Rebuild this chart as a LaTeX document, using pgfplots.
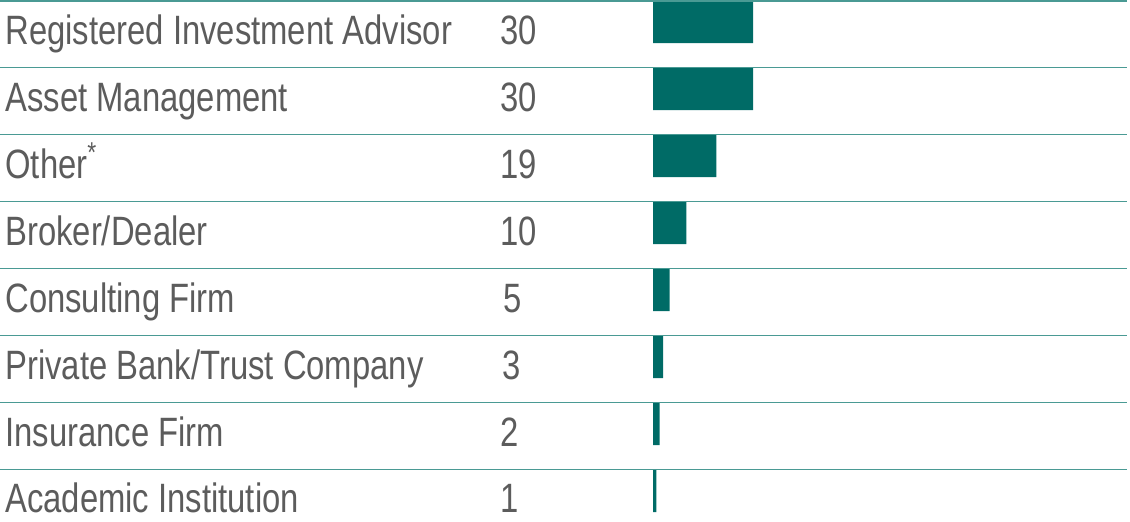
\documentclass[border=0pt]{standalone}
\usepackage{pgfplots}
\pgfplotsset{compat=1.18}
\usepackage{pgfplotstable}
\usepackage{fontspec}
\setmainfont{Liberation Sans}[FakeStretch=0.8]
\definecolor{barteal}{HTML}{006B66}
\definecolor{lineteal}{HTML}{4A9A94}
\definecolor{txtgray}{HTML}{5C5C5C}
% y = centre of the bar in pixel rows (top row first), v = value
\pgfplotstableread{
y v
22 30
89 30
156 19
223 10
290 5
357 3
424 2
491 1
}\datatable
\begin{document}
\begin{tikzpicture}
\begin{axis}[
  scale only axis,
  width=565pt, height=260.5pt,
  xmin=-195.9, xmax=143.1,
  ymin=0, ymax=521, y dir=reverse,
  axis lines=none, ticks=none,
  clip=false,
  xbar, bar width=42, bar shift=0pt,
]
\addplot[fill=barteal, draw=none] table[x=v, y=y] {\datatable};
\pgfplotsinvokeforeach{0.8,67.5,134.5,201.5,268.5,335.5,402.5,469.5}{
  \draw[lineteal, line width=0.8pt] (axis cs:-195.9,#1) -- (axis cs:142.2,#1);
}
\def\lx{-194.4}
\def\nx{-45.9}
\tikzset{lab/.style={anchor=base west, inner sep=0pt, text=txtgray, font=\fontsize{20.5}{24}\selectfont}}
\node[lab] at (axis cs:\lx,44) {Registered Investment Advisor};
\node[lab] at (axis cs:\lx,111) {Asset Management};
\node[lab] at (axis cs:\lx,178) {Other\textsuperscript{*}};
\node[lab] at (axis cs:\lx,245) {Broker/Dealer};
\node[lab] at (axis cs:\lx,312) {Consulting Firm};
\node[lab] at (axis cs:\lx,379) {Private Bank/Trust Company};
\node[lab] at (axis cs:\lx,446) {Insurance Firm};
\node[lab] at (axis cs:\lx,512) {Academic Institution};
\node[lab] at (axis cs:\nx,44) {30};
\node[lab] at (axis cs:\nx,111) {30};
\node[lab] at (axis cs:\nx,178) {19};
\node[lab] at (axis cs:\nx,245) {10};
\node[lab] at (axis cs:\nx+0.9,312) {5};
\node[lab] at (axis cs:\nx+0.6,379) {3};
\node[lab] at (axis cs:\nx,446) {2};
\node[lab] at (axis cs:\nx,512) {1};
\end{axis}
\pgfresetboundingbox
\useasboundingbox (current axis.south west) rectangle (current axis.north east);
\end{tikzpicture}
\end{document}
